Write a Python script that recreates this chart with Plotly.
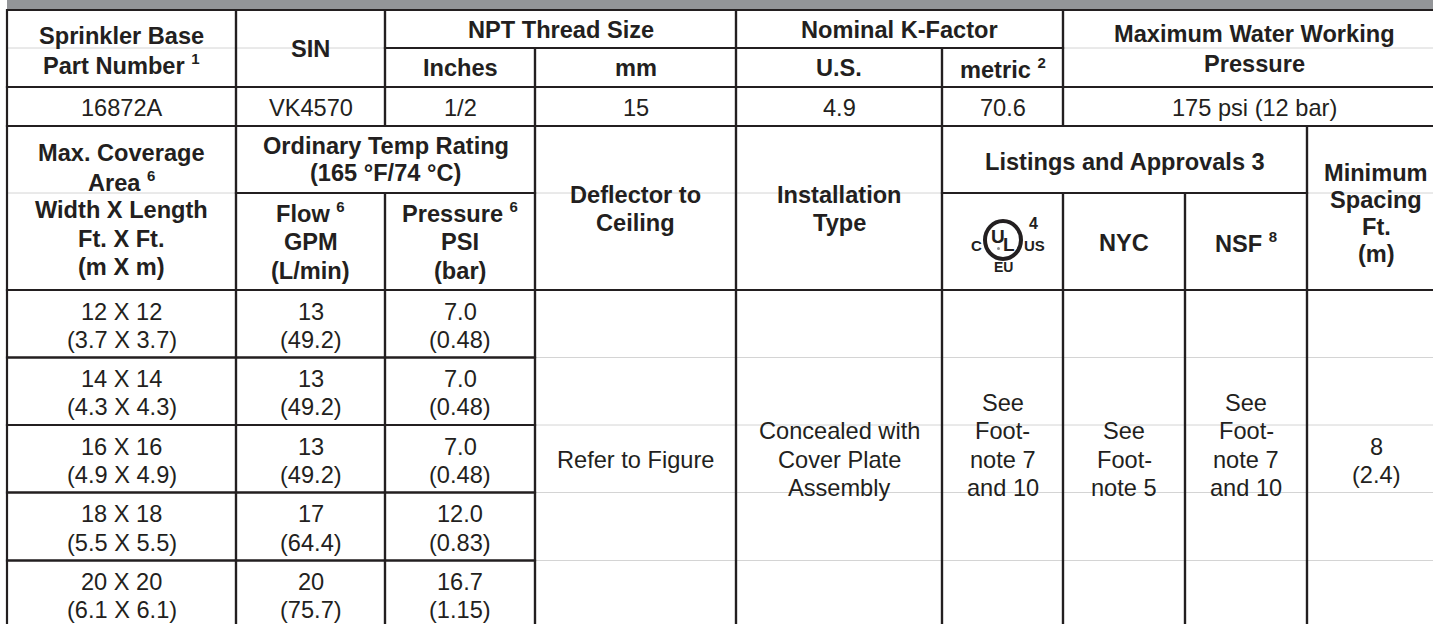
import plotly.graph_objects as go

# ---------------- data (text content of the table) ----------------
hdr_part = ["Sprinkler Base", "Part Number <sup><span style='font-size:15px'>1</span></sup>"]
hdr_sin = ["SIN"]
hdr_npt = ["NPT Thread Size"]
hdr_inches = ["Inches"]
hdr_mm = ["mm"]
hdr_kfactor = ["Nominal K-Factor"]
hdr_us = ["U.S."]
hdr_metric = ["metric <sup><span style='font-size:15px'>2</span></sup>"]
hdr_maxpress = ["Maximum Water Working", "Pressure"]

part_number = "16872A"
sin_value = "VK4570"
npt_inches = "1/2"
npt_mm = "15"
k_us = "4.9"
k_metric = "70.6"
max_pressure = "175 psi (12 bar)"

hdr_coverage = ["Max. Coverage", "Area <sup><span style='font-size:15px'>6</span></sup>",
                "Width X Length", "Ft. X Ft.", "(m X m)"]
hdr_temp = ["Ordinary Temp Rating", "(165 °F/74 °C)"]
hdr_flow = ["Flow <sup><span style='font-size:15px'>6</span></sup>", "GPM", "(L/min)"]
hdr_pressure = ["Pressure <sup><span style='font-size:15px'>6</span></sup>", "PSI", "(bar)"]
hdr_deflector = ["Deflector to", "Ceiling"]
hdr_install = ["Installation", "Type"]
hdr_listings = ["Listings and Approvals 3"]
hdr_nyc = ["NYC"]
hdr_nsf = ["NSF <sup><span style='font-size:15px'>8</span></sup>"]
hdr_minspacing = ["Minimum", "Spacing", "Ft.", "(m)"]

coverage_ft = ["12 X 12", "14 X 14", "16 X 16", "18 X 18", "20 X 20"]
coverage_m = ["(3.7 X 3.7)", "(4.3 X 4.3)", "(4.9 X 4.9)", "(5.5 X 5.5)", "(6.1 X 6.1)"]
flow_gpm = ["13", "13", "13", "17", "20"]
flow_lpm = ["(49.2)", "(49.2)", "(49.2)", "(64.4)", "(75.7)"]
pressure_psi = ["7.0", "7.0", "7.0", "12.0", "16.7"]
pressure_bar = ["(0.48)", "(0.48)", "(0.48)", "(0.83)", "(1.15)"]

deflector_text = ["Refer to Figure"]
install_text = ["Concealed with", "Cover Plate", "Assembly"]
ul_text = ["See", "Foot-", "note 7", "and 10", ""]
nyc_text = ["See", "Foot-", "note 5"]
nsf_text = ["See", "Foot-", "note 7", "and 10", ""]
min_spacing_text = ["8", "(2.4)"]

# ---------------- layout (grid geometry, pixels) ----------------
W, H = 1433, 624
X = [7, 236, 385, 535, 736, 942, 1063, 1185, 1307, 1445]
Y = [10, 48, 87, 126, 193, 290, 357.5, 425, 492.5, 560.5, 628]
INK = "#231f20"
BAND = "#939598"
FAINT = "#d4d4d4"
FONT = "Liberation Sans, Arial, sans-serif"
BOLD_SIZE = 23.6
REG_SIZE = 23.6

# cells: (col0, col1, row0, row1, lines, bold, line spacing, y offset)
cells = [
    (0, 1, 0, 2, hdr_part, True, 28.5, 2),
    (1, 2, 0, 2, hdr_sin, True, 28, 0),
    (2, 4, 0, 1, hdr_npt, True, 28, 0.5),
    (2, 3, 1, 2, hdr_inches, True, 28, 0.5),
    (3, 4, 1, 2, hdr_mm, True, 28, 0.5),
    (4, 6, 0, 1, hdr_kfactor, True, 28, 0.5),
    (4, 5, 1, 2, hdr_us, True, 28, 0.5),
    (5, 6, 1, 2, hdr_metric, True, 28, 0.5),
    (6, 9, 0, 2, hdr_maxpress, True, 30, 0),
    (0, 1, 2, 3, [part_number], False, 28, 1),
    (1, 2, 2, 3, [sin_value], False, 28, 1),
    (2, 3, 2, 3, [npt_inches], False, 28, 1),
    (3, 4, 2, 3, [npt_mm], False, 28, 1),
    (4, 5, 2, 3, [k_us], False, 28, 1),
    (5, 6, 2, 3, [k_metric], False, 28, 1),
    (6, 9, 2, 3, [max_pressure], False, 28, 1),
    (0, 1, 3, 5, hdr_coverage, True, 28.5, 2),
    (1, 3, 3, 4, hdr_temp, True, 27, 0),
    (1, 2, 4, 5, hdr_flow, True, 29.5, 0),
    (2, 3, 4, 5, hdr_pressure, True, 29.5, 0),
    (3, 4, 3, 5, hdr_deflector, True, 28.5, 1),
    (4, 5, 3, 5, hdr_install, True, 28.5, 1),
    (5, 8, 3, 4, hdr_listings, True, 28, 2),
    (6, 7, 4, 5, hdr_nyc, True, 28, 1),
    (7, 8, 4, 5, hdr_nsf, True, 28, 1),
    (8, 9, 3, 5, hdr_minspacing, True, 27, 5),
    (3, 4, 5, 10, deflector_text, False, 28.3, 0.5),
    (4, 5, 5, 10, install_text, False, 28.3, 0.5),
    (5, 6, 5, 10, ul_text, False, 28.3, 0.5),
    (6, 7, 5, 10, nyc_text, False, 28.3, 0.5),
    (7, 8, 5, 10, nsf_text, False, 28.3, 0.5),
    (8, 9, 5, 10, min_spacing_text, False, 28.3, 2),
]
# UL logo cell (listing mark) has no text block
ul_cell = (5, 6, 4, 5)
for i in range(len(coverage_ft)):
    cells.append((0, 1, 5 + i, 6 + i, [coverage_ft[i], coverage_m[i]], False, 28.3, 2))
    cells.append((1, 2, 5 + i, 6 + i, [flow_gpm[i], flow_lpm[i]], False, 28.3, 2))
    cells.append((2, 3, 5 + i, 6 + i, [pressure_psi[i], pressure_bar[i]], False, 28.3, 2))

shapes = []
annotations = []

# gray title band
shapes.append(dict(type="rect", xref="x", yref="y", x0=X[0], x1=W + 5, y0=-5, y1=Y[0],
                   fillcolor=BAND, line=dict(width=0), layer="below"))

# faint continuation lines inside merged cells
faint_lines = [
    (X[0], X[2], Y[1]), (X[6], X[9], Y[1]),
    (X[0], X[1], Y[4]), (X[3], X[5], Y[4]), (X[8], X[9], Y[4]),
]
for r in range(6, 10):
    faint_lines.append((X[3], X[9], Y[r]))
for x0, x1, y in faint_lines:
    shapes.append(dict(type="line", xref="x", yref="y", x0=x0, x1=x1, y0=y, y1=y,
                       line=dict(color=FAINT, width=1)))

# cell borders
all_cells = [(c[0], c[1], c[2], c[3]) for c in cells] + [ul_cell]
for c0, c1, r0, r1 in all_cells:
    shapes.append(dict(type="rect", xref="x", yref="y", x0=X[c0], x1=X[c1], y0=Y[r0], y1=Y[r1],
                       line=dict(color=INK, width=2.2), fillcolor="rgba(0,0,0,0)"))

# cell texts, one annotation per line
for c0, c1, r0, r1, lines, bold, ls, off in cells:
    cx = (X[c0] + X[c1]) / 2
    cy = (Y[r0] + Y[min(r1, len(Y) - 1)]) / 2 + off
    n = len(lines)
    for i, t in enumerate(lines):
        if not t:
            continue
        y = cy + (i - (n - 1) / 2) * ls
        annotations.append(dict(
            x=cx, y=y, xref="x", yref="y", text=("<b>%s</b>" % t) if bold else t,
            showarrow=False, xanchor="center", yanchor="middle",
            font=dict(family=FONT, size=BOLD_SIZE if bold else REG_SIZE, color=INK)))

# UL listing mark
ucx = (X[5] + X[6]) / 2 + 0.5
ucy = 240
shapes.append(dict(type="circle", xref="x", yref="y", x0=ucx - 18, x1=ucx + 18,
                   y0=ucy - 19, y1=ucy + 19, line=dict(color=INK, width=4)))
mark_parts = [
    ("<b>U</b>", -5, -4, 19),
    ("<b>L</b>", 6, 4, 19),
    ("<b>C</b>", -27, 5, 15),
    ("<b>US</b>", 31, 5, 15),
    ("<b>EU</b>", 0, 27, 14),
    ("<b>4</b>", 30, -17, 16),
]
for t, dx, dy, sz in mark_parts:
    annotations.append(dict(x=ucx + dx, y=ucy + dy, xref="x", yref="y", text=t, showarrow=False,
                            xanchor="center", yanchor="middle",
                            font=dict(family="Liberation Sans Narrow, Liberation Sans, Arial", size=sz, color=INK)))
shapes.append(dict(type="circle", xref="x", yref="y", x0=ucx - 6, x1=ucx - 3, y0=ucy + 7, y1=ucy + 10,
                   fillcolor="#8a8a8a", line=dict(width=0)))

fig = go.Figure()
fig.update_layout(
    width=W, height=H,
    margin=dict(l=0, r=0, t=0, b=0),
    paper_bgcolor="white", plot_bgcolor="white",
    xaxis=dict(range=[0, W], visible=False, fixedrange=True),
    yaxis=dict(range=[H, 0], visible=False, fixedrange=True),
    shapes=shapes, annotations=annotations, showlegend=False,
)
fig.write_html("out.html", config={"displayModeBar": False},
               post_script="document.body.style.margin='0';document.body.style.overflow='hidden';")
